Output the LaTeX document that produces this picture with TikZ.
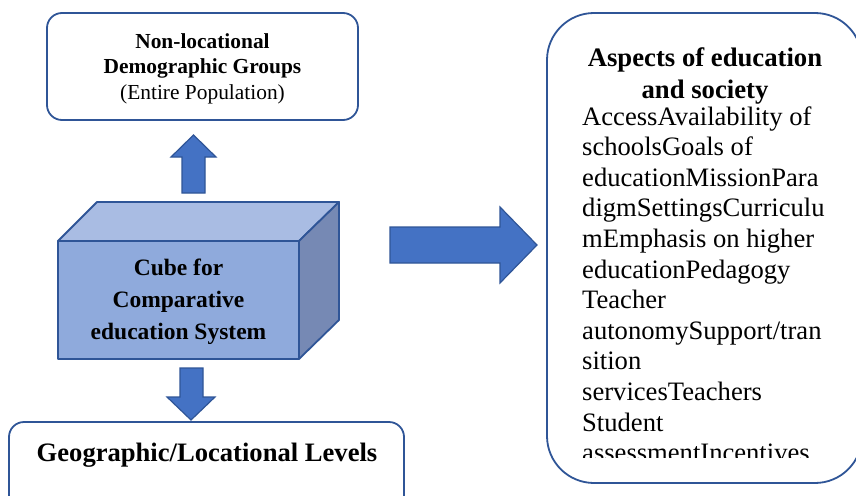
\documentclass[tikz,border=0pt]{standalone}
\usepackage{fontspec}
\setmainfont{Liberation Serif}
\usetikzlibrary{positioning}
\definecolor{edgeblue}{RGB}{47,85,151}
\definecolor{arrowblue}{RGB}{68,114,196}
\definecolor{cubetop}{RGB}{169,188,227}
\definecolor{cubefront}{RGB}{143,170,220}
\definecolor{cubeside}{RGB}{118,137,180}
\tikzset{
  roundbox/.style={draw=edgeblue, line width=1.8pt, rounded corners=15pt, fill=white},
  blockarrow/.style={draw=edgeblue, line width=1.2pt, fill=arrowblue, line join=miter},
  cubeface/.style={draw=edgeblue, line width=1.8pt, line join=round},
  bodytxt/.style={font=\fontsize{26.6}{30.6}\selectfont, inner sep=0pt},
}
\begin{document}
\begin{tikzpicture}[x=1pt,y=-1pt]
\useasboundingbox (0,0) rectangle (856,495);

% top box
\draw[roundbox] (47,13) rectangle (358,120);
\node[align=center, inner sep=0pt, font=\fontsize{21.4}{25.5}\selectfont] (poptxt) at (202.5,68.5)
  {\textbf{Non-locational}\\\textbf{Demographic Groups}\\(Entire Population)};

% cube
\coordinate (f1) at (58,241);
\coordinate (f2) at (299,241);
\coordinate (f3) at (299,359);
\coordinate (f4) at (58,359);
\coordinate (b1) at (97,202);
\coordinate (b2) at (339,202);
\coordinate (b3) at (339,320);
\draw[cubeface, fill=cubetop] (f1)--(b1)--(b2)--(f2)--cycle;
\draw[cubeface, fill=cubeside] (f2)--(b2)--(b3)--(f3)--cycle;
\draw[cubeface, fill=cubefront] (f1)--(f2)--(f3)--(f4)--cycle;
\node[align=center, inner sep=0pt, font=\bfseries\fontsize{23.5}{32}\selectfont] (cubetxt) at (178.5,301.5)
  {Cube for\\Comparative\\education System};

% arrows
\draw[blockarrow] (182,193)--(182,157)--(171,157)--(193.5,135)--(216,157)--(205,157)--(205,193)--cycle;
\draw[blockarrow] (180,368)--(180,397)--(167,397)--(191,420)--(215,397)--(203,397)--(203,368)--cycle;
\draw[blockarrow] (390,227)--(500,227)--(500,207)--(537,245)--(500,283)--(500,263)--(390,263)--cycle;

% bottom box
\draw[roundbox] (9,422) rectangle (404,515);
\node[anchor=base, inner sep=0pt, font=\bfseries\fontsize{26.6}{30}\selectfont] (geotxt) at (207,461)
  {Geographic/Locational Levels};

% right box
\draw[roundbox, rounded corners=47pt] (547,13) rectangle (862,483);
\node[align=center, anchor=north, inner sep=0pt, font=\bfseries\fontsize{26.7}{32}\selectfont] (aspecthead) at (705,47.8)
  {Aspects of education\\and society};
\begin{scope}
\clip (547,13) rectangle (856,457);
\foreach \t [count=\i] in {AccessAvailability of,schoolsGoals of,educationMissionPara,digmSettingsCurriculu,mEmphasis on higher,educationPedagogy,Teacher,autonomySupport/tran,sition,servicesTeachers,Student,assessmentIncentives}
{
\node[bodytxt, anchor=base west] (line\i) at (582,{125+30.6*(\i-1)}) {\t};
}
\end{scope}
\end{tikzpicture}
\end{document}
